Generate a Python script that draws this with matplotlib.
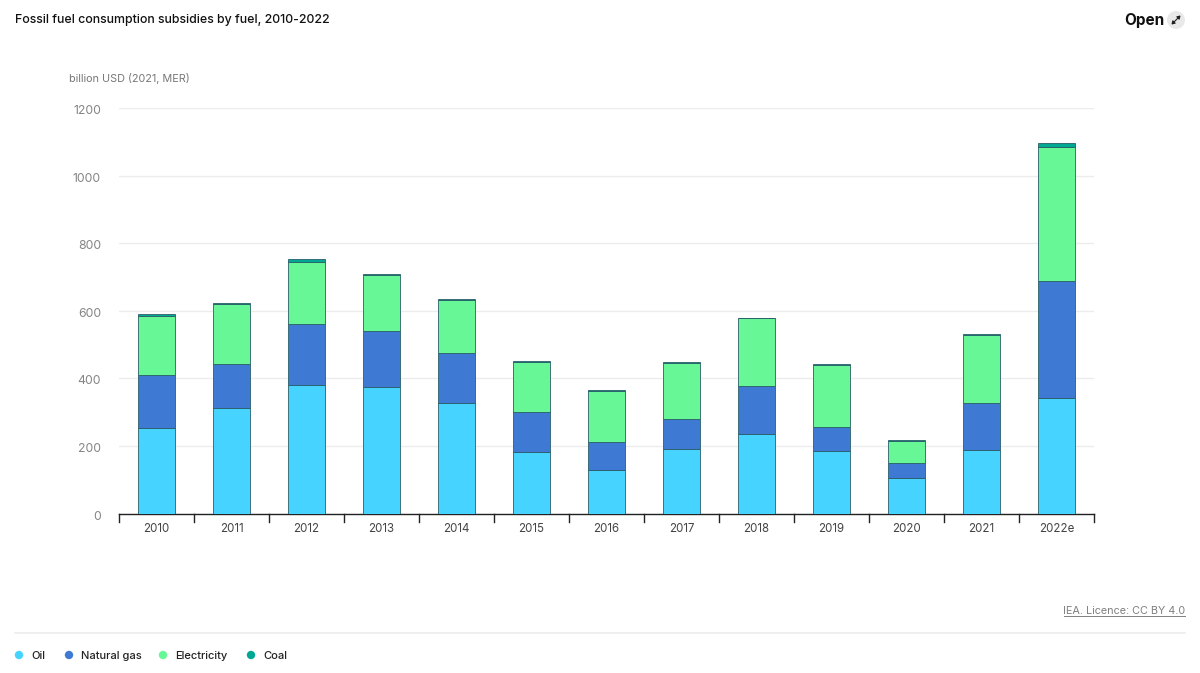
import numpy as np
import matplotlib
matplotlib.use('Agg')
import matplotlib.pyplot as plt
from matplotlib.lines import Line2D
from matplotlib.patches import Circle, FancyArrowPatch
from matplotlib.transforms import ScaledTranslation

plt.rcParams['font.family'] = ['Inter', 'DejaVu Sans']

years = ['2010', '2011', '2012', '2013', '2014', '2015', '2016', '2017', '2018', '2019', '2020', '2021', '2022e']
oil = [253, 312, 380, 375, 327, 182, 129, 191, 235, 185, 105, 188, 342]
natural_gas = [157, 130, 181, 165, 148, 118, 83, 89, 142, 71, 45, 139, 346]
electricity = [174, 178, 183, 165, 157, 149, 150, 165, 201, 184, 65, 201, 396]
coal = [5, 4, 9, 4, 4, 1, 4, 4, 1, 1, 2, 3, 11]
y_ticks = [0, 200, 400, 600, 800, 1000, 1200]

series = [('Oil', oil, '#47d3ff'), ('Natural gas', natural_gas, '#3e7ad3'),
          ('Electricity', electricity, '#68f797'), ('Coal', coal, '#00a894')]

W, H = 1200, 673
fig = plt.figure(figsize=(W / 100, H / 100), dpi=100, facecolor='white')
ax = fig.add_axes([119 / W, 1 - 513.5 / H, (1094 - 119) / W, (513.5 - 108) / H])

# stacked bars
x = np.arange(len(years))
bottom = np.zeros(len(years))
for name, vals, color in series:
    ax.bar(x, vals, 0.5, bottom=bottom, color=color, edgecolor='#2a5f68', linewidth=0.6, zorder=3)
    bottom += np.array(vals)

ax.set_xlim(-0.5, len(years) - 0.5)
ax.set_ylim(0, 1200)
ax.set_yticks(y_ticks)
ax.set_yticklabels([str(t) for t in y_ticks], fontsize=8.8, color='#858585')
ax.set_xticks(x)
ax.set_xticklabels(years, fontsize=8.3, color='#444444')
ax.tick_params(axis='y', length=0, pad=13)
ax.tick_params(axis='x', length=0, pad=7)
ax.grid(axis='y', color='#ececec', linewidth=1, zorder=0)
ax.set_axisbelow(True)
for side in ['top', 'right', 'left']:
    ax.spines[side].set_visible(False)
ax.spines['bottom'].set_color('#222222')
ax.spines['bottom'].set_linewidth(1)

# y labels sit a little under their gridlines
shift = ScaledTranslation(0, -1.5 / 100, fig.dpi_scale_trans)
for label in ax.get_yticklabels():
    label.set_transform(label.get_transform() + shift)

# ticks sit between the categories
for edge in np.arange(len(years) + 1) - 0.5:
    ax.plot([edge, edge], [0, -0.02], transform=ax.get_xaxis_transform(),
            color='#222222', linewidth=1, clip_on=False, zorder=4)

def px(xp, yp):
    return xp / W, 1 - yp / H

fig.text(*px(15, 20), 'Fossil fuel consumption subsidies by fuel, 2010-2022', fontsize=8.9,
         fontweight='medium', color='#111111', va='center')
fig.text(*px(69, 78), 'billion USD (2021, MER)', fontsize=7.8, color='#777777', va='center')
fig.text(*px(1124, 21), 'Open', fontsize=11, fontweight='bold', color='#111111', va='center')
fig.text(*px(1185, 611), 'IEA. Licence: CC BY 4.0', fontsize=7.8, color='#808080', va='center', ha='right')
fig.add_artist(Line2D([1064 / W, 1185 / W], [1 - 616 / H, 1 - 616 / H], transform=fig.transFigure,
                      color='#808080', linewidth=0.7))

# open button, the expand glyph is in no installed font so it is an arrow
fig.add_artist(Circle((1176, H - 20), 9, transform=None, facecolor='#e9e9e9', edgecolor='none'))
fig.add_artist(FancyArrowPatch(px(1171.5, 24.5), px(1180.5, 15.5), transform=fig.transFigure,
                               arrowstyle='<|-|>,head_length=1.8,head_width=1.2', color='#222222',
                               linewidth=0.8, shrinkA=0, shrinkB=0, zorder=5))

# footer rule and legend
fig.add_artist(Line2D([15 / W, 1185 / W], [1 - 632.5 / H, 1 - 632.5 / H], transform=fig.transFigure,
                      color='#eeeeee', linewidth=1.3))
legend_dots = [19, 69, 163, 251]
legend_text = [31, 81, 175, 263]
for (name, vals, color), xd, xt in zip(series, legend_dots, legend_text):
    fig.add_artist(Circle((xd, H - 655), 4.2, transform=None, facecolor=color, edgecolor='none'))
    fig.text(*px(xt, 656), name, fontsize=8, fontweight='medium', color='#222222', va='center')

fig.savefig('out.png', dpi=100)
